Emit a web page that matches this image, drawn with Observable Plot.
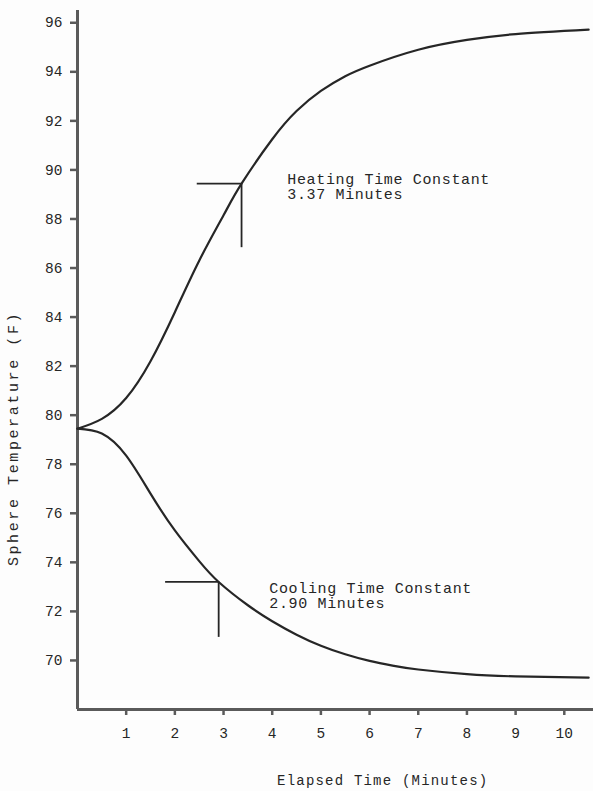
<!DOCTYPE html>
<html>
<head>
<meta charset="utf-8">
<script src="https://cdn.jsdelivr.net/npm/d3@7"></script>
<script src="https://cdn.jsdelivr.net/npm/@observablehq/plot@0.6"></script>
<style>
  html, body { margin: 0; padding: 0; background: #fdfdfd; }
  #chart svg { display: block; }
</style>
</head>
<body>
<div id="chart"></div>
<script>
// Elapsed time (minutes) and sphere temperature (F)
const heatingTime = [0, 0.5, 1.0, 1.5, 2.0, 2.5, 3.0, 3.37, 4.0, 4.5, 5.0, 5.5, 6.0, 7.0, 8.0, 9.0, 10.5];
const heatingTemp = [79.45, 79.85, 80.7, 82.2, 84.2, 86.3, 88.15, 89.44, 91.25, 92.4, 93.22, 93.82, 94.25, 94.9, 95.3, 95.54, 95.72];

const coolingTime = [0, 0.5, 1.0, 1.5, 2.0, 2.5, 2.9, 3.5, 4.0, 4.5, 5.0, 5.5, 6.0, 6.5, 7.0, 8.0, 9.0, 10.5];
const coolingTemp = [79.45, 79.25, 78.35, 76.8, 75.3, 74.05, 73.2, 72.25, 71.6, 71.05, 70.6, 70.25, 69.98, 69.78, 69.63, 69.44, 69.35, 69.3];

// Time-constant markers: horizontal leg (left..x at y) and vertical leg (x from bottom..y)
const markerX = [3.37, 2.90];
const markerY = [89.44, 73.2];
const markerLeft = [2.46, 1.81];
const markerBottom = [86.83, 70.94];

const annotationX = [4.31, 3.94];
const annotationY = [89.9, 73.22];
const annotationText = ["Heating Time Constant\n3.37 Minutes", "Cooling Time Constant\n2.90 Minutes"];

const xTicks = [1, 2, 3, 4, 5, 6, 7, 8, 9, 10];
const yTicks = [70, 72, 74, 76, 78, 80, 82, 84, 86, 88, 90, 92, 94, 96];
const xLabel = "Elapsed Time (Minutes)";
const yLabel = "Sphere Temperature (F)";

const heating = heatingTime.map((t, i) => ({t, T: heatingTemp[i]}));
const cooling = coolingTime.map((t, i) => ({t, T: coolingTemp[i]}));
const hLegs = markerX.map((x, i) => ({x1: markerLeft[i], x2: x, y: markerY[i]}));
const vLegs = markerX.map((x, i) => ({x, y1: markerBottom[i], y2: markerY[i]}));
const notes = annotationX.map((x, i) => ({x, y: annotationY[i], text: annotationText[i]}));

const ink = "#262626";
const axisInk = "#5a5a5a";
const font = "'Liberation Mono', 'DejaVu Sans Mono', monospace";

const plot = Plot.plot({
  width: 593,
  height: 791,
  marginLeft: 77,
  marginRight: 0,
  marginTop: 10,
  marginBottom: 82,
  style: {fontFamily: font, fontSize: "14px", color: ink, background: "transparent"},
  x: {domain: [0, 10.6]},
  y: {domain: [68, 96.5]},
  marks: [
    Plot.axisY({ticks: yTicks, tickSize: 7, tickPadding: 8, tickFormat: d => d, label: null, stroke: axisInk, strokeWidth: 2.5, fill: ink, fontSize: 14.5}),
    Plot.axisX({ticks: xTicks, tickSize: 6, tickPadding: 12, tickFormat: d => d, label: null, stroke: axisInk, strokeWidth: 2.5, fill: ink, fontSize: 14.5}),
    Plot.ruleX([0], {stroke: axisInk, strokeWidth: 3}),
    Plot.ruleY([68], {stroke: axisInk, strokeWidth: 3}),
    Plot.line(heating, {x: "t", y: "T", curve: "natural", stroke: ink, strokeWidth: 2.2}),
    Plot.line(cooling, {x: "t", y: "T", curve: "natural", stroke: ink, strokeWidth: 2.2}),
    Plot.ruleY(hLegs, {y: "y", x1: "x1", x2: "x2", stroke: ink, strokeWidth: 1.8}),
    Plot.ruleX(vLegs, {x: "x", y1: "y1", y2: "y2", stroke: ink, strokeWidth: 1.8}),
    Plot.text(notes, {x: "x", y: "y", text: "text", textAnchor: "start", lineAnchor: "top", lineHeight: 1.05, fontSize: 15, fill: ink}),
    Plot.text([xLabel], {x: [6.27], frameAnchor: "bottom", lineAnchor: "bottom", dy: 75, fontSize: 14, fill: ink}),
    Plot.text([yLabel], {y: [79.05], frameAnchor: "left", textAnchor: "middle", dx: -64, rotate: -90, fontSize: 15, fill: ink})
  ]
});

// typewriter letter spacing for the annotation and axis titles
const texts = d3.select(plot).selectAll("g[aria-label='text']");
texts.filter((d, i) => i === 0).selectAll("text").style("letter-spacing", "0.65px");
texts.filter((d, i) => i === 1).selectAll("text").style("letter-spacing", "1.2px");
texts.filter((d, i) => i === 2).selectAll("text").style("letter-spacing", "2.6px");
document.getElementById("chart").appendChild(plot);
</script>
</body>
</html>
